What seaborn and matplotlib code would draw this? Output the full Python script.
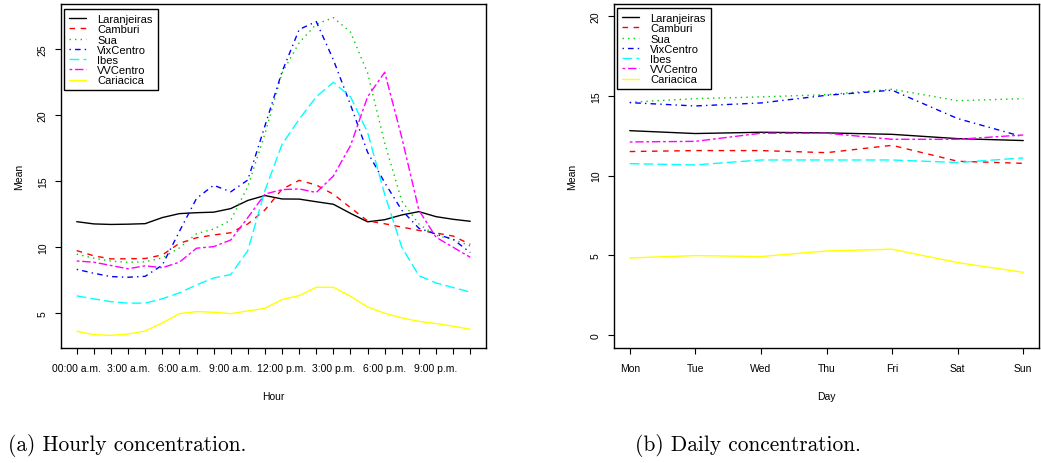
import pandas as pd
import matplotlib.pyplot as plt
import seaborn as sns

# --- data ---
stations = ["Laranjeiras", "Camburi", "Sua", "VixCentro", "Ibes", "VVCentro", "Cariacica"]
colors = ["black", "red", "#00CD00", "blue", "cyan", "magenta", "yellow"]
# R lty 1..6, then 1 again
dash_styles = ["", (4, 4), (1, 3), (1, 3, 4, 3), (7, 3), (2, 2, 6, 2), ""]

hours = list(range(24))
hour_labels = ["00:00 a.m.", "3:00 a.m.", "6:00 a.m.", "9:00 a.m.",
               "12:00 p.m.", "3:00 p.m.", "6:00 p.m.", "9:00 p.m."]

laranjeiras_h = [11.94, 11.77, 11.73, 11.75, 11.79, 12.25, 12.55, 12.62, 12.66, 12.93, 13.55, 13.92,
                 13.66, 13.65, 13.45, 13.26, 12.57, 11.93, 12.09, 12.45, 12.70, 12.32, 12.12, 11.97]
camburi_h = [9.75, 9.35, 9.12, 9.13, 9.15, 9.42, 10.30, 10.72, 10.93, 11.10, 11.77, 12.83,
             14.40, 15.07, 14.72, 14.02, 13.00, 12.00, 11.78, 11.53, 11.28, 11.08, 10.85, 10.22]
sua_h = [9.48, 9.17, 8.95, 8.86, 8.90, 9.20, 9.95, 11.03, 11.38, 12.05, 14.60, 18.60,
         23.20, 25.50, 26.90, 27.40, 26.30, 23.20, 17.90, 13.50, 11.76, 10.90, 10.60, 10.10]
vixcentro_h = [8.33, 8.03, 7.78, 7.73, 7.80, 8.65, 11.20, 13.70, 14.70, 14.20, 15.10, 19.20,
               23.30, 26.50, 27.10, 24.20, 20.80, 17.20, 14.90, 12.80, 11.44, 11.00, 10.60, 9.60]
ibes_h = [6.32, 6.09, 5.88, 5.77, 5.77, 6.10, 6.55, 7.15, 7.67, 7.93, 9.75, 14.30,
          17.80, 19.70, 21.40, 22.50, 21.40, 18.70, 14.00, 10.00, 7.85, 7.30, 6.95, 6.60]
vvcentro_h = [8.96, 8.87, 8.62, 8.37, 8.60, 8.45, 8.87, 9.93, 10.05, 10.55, 12.25, 14.03,
              14.37, 14.42, 14.15, 15.40, 17.70, 21.40, 23.26, 18.30, 12.80, 10.76, 10.00, 9.24]
cariacica_h = [3.64, 3.38, 3.33, 3.43, 3.66, 4.27, 4.97, 5.13, 5.08, 4.97, 5.18, 5.38,
               6.04, 6.34, 6.97, 6.97, 6.29, 5.48, 5.00, 4.65, 4.39, 4.22, 4.02, 3.79]

days = ["Mon", "Tue", "Wed", "Thu", "Fri", "Sat", "Sun"]
laranjeiras_d = [12.82, 12.64, 12.72, 12.68, 12.59, 12.32, 12.20]
camburi_d = [11.51, 11.57, 11.57, 11.44, 11.90, 10.90, 10.77]
sua_d = [14.60, 14.83, 14.94, 15.08, 15.42, 14.70, 14.83]
vixcentro_d = [14.58, 14.37, 14.56, 15.04, 15.36, 13.58, 12.43]
ibes_d = [10.75, 10.67, 10.98, 10.98, 10.98, 10.82, 11.11]
vvcentro_d = [12.11, 12.15, 12.66, 12.66, 12.28, 12.28, 12.55]
cariacica_d = [4.83, 4.98, 4.92, 5.27, 5.38, 4.54, 3.93]

hourly = [laranjeiras_h, camburi_h, sua_h, vixcentro_h, ibes_h, vvcentro_h, cariacica_h]
daily = [laranjeiras_d, camburi_d, sua_d, vixcentro_d, ibes_d, vvcentro_d, cariacica_d]

# long-form tables for seaborn
df_h = pd.concat([pd.DataFrame({"Hour": hours, "Mean": v, "Station": s})
                  for s, v in zip(stations, hourly)], ignore_index=True)
df_d = pd.concat([pd.DataFrame({"Day": days, "Mean": v, "Station": s})
                  for s, v in zip(stations, daily)], ignore_index=True)

# --- style (R base graphics look) ---
sns.set_style("ticks", {"axes.edgecolor": "black", "text.color": "black",
                        "xtick.color": "black", "ytick.color": "black",
                        "axes.labelcolor": "black"})
plt.rcParams["font.family"] = ["Liberation Sans", "DejaVu Sans"]
plt.rcParams["font.size"] = 7.5

palette = dict(zip(stations, colors))
dashes = dict(zip(stations, dash_styles))

fig = plt.figure(figsize=(10.41, 4.64), dpi=100)
W, H = 1041, 464
ax1 = fig.add_axes([61 / W, (H - 349) / H, 425 / W, 344 / H])
ax2 = fig.add_axes([614 / W, (H - 349) / H, 425 / W, 344 / H])


def style_axes(ax):
    for sp in ax.spines.values():
        sp.set_visible(True)
        sp.set_color("black")
        sp.set_linewidth(1.0)
    ax.tick_params(direction="out", length=4.5, width=0.8, color="black", labelsize=7.5)
    ax.tick_params(axis="x", pad=6)
    ax.tick_params(axis="y", pad=5)
    for lab in ax.get_yticklabels():
        lab.set_rotation(90)
        lab.set_va("center")
    ax.set_ylabel("Mean", fontsize=7.5, labelpad=10)


def redo_legend(ax, x0, y0):
    leg = ax.get_legend()
    handles = leg.legend_handles
    labels = [t.get_text() for t in leg.get_texts()]
    leg.remove()
    new = ax.legend(handles, labels, loc="upper left", bbox_to_anchor=(x0, y0),
                    borderaxespad=0, frameon=True, fancybox=False, fontsize=8,
                    labelspacing=0.02, handlelength=1.5, handletextpad=1.05,
                    borderpad=0.45, edgecolor="black", framealpha=1)
    new.get_frame().set_linewidth(1.0)
    for h in new.legend_handles:
        h.set_linewidth(1.0)


# --- (a) hourly ---
sns.lineplot(data=df_h, x="Hour", y="Mean", hue="Station", style="Station",
             palette=palette, dashes=dashes, linewidth=1.0, ax=ax1)
ax1.set_xlim(-0.92, 23.92)
ax1.set_ylim(2.37, 28.43)
ax1.set_xticks(hours)
ax1.set_xticklabels([hour_labels[h // 3] if h % 3 == 0 else "" for h in hours])
ax1.set_yticks([5, 10, 15, 20, 25])
ax1.set_xlabel("Hour", fontsize=7.5, labelpad=13)
style_axes(ax1)
redo_legend(ax1, 0.007, 0.985)

# --- (b) daily ---
sns.lineplot(data=df_d, x="Day", y="Mean", hue="Station", style="Station",
             palette=palette, dashes=dashes, linewidth=1.0, sort=False, ax=ax2)
ax2.set_xlim(-0.24, 6.24)
ax2.set_ylim(-0.82, 20.77)
ax2.set_yticks([0, 5, 10, 15, 20])
ax2.set_xlabel("Day", fontsize=7.5, labelpad=13)
style_axes(ax2)
redo_legend(ax2, 0.007, 0.988)

# --- sub-captions ---
fig.text(8 / W, 1 - 446 / H, "(a) Hourly concentration.", family="cmr10",
         fontsize=15.4, va="center", ha="left")
fig.text(635 / W, 1 - 446 / H, "(b) Daily concentration.", family="cmr10",
         fontsize=15.4, va="center", ha="left")

fig.savefig("out.png", dpi=100)
